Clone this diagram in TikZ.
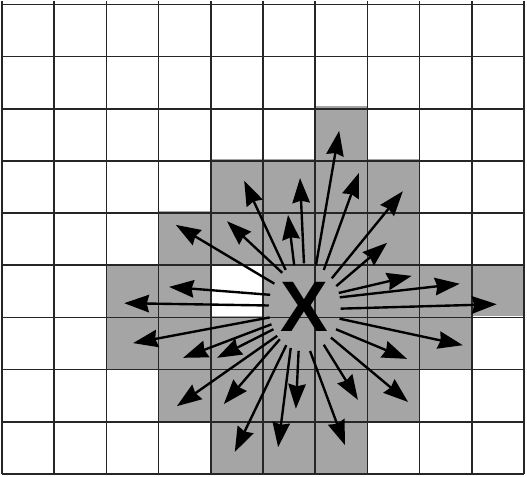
\documentclass[tikz,border=0pt]{standalone}
\usepackage{fontspec}
\usepackage{tikz}
\usetikzlibrary{arrows.meta, shapes.geometric}
\newfontfamily\xfont{Liberation Sans}
\definecolor{cellgray}{RGB}{165, 165, 165}

\begin{document}
\begin{tikzpicture}[x=1cm, y=1.007cm,
    gridline/.style={black!85, line width=0.9pt},
    vec/.style={line width=1.3pt, -{Stealth[length=13.5pt, width=9.5pt, inset=1.2pt]}}]
    \useasboundingbox (-0.04,-0.04) rectangle (10.06,9.02);

    % Shaded cells
    \fill[cellgray] (6,6) rectangle (7,7);
    \fill[cellgray] (4,5) rectangle (8,6);
    \fill[cellgray] (3,4) rectangle (8,5);
    \fill[cellgray] (2,3) rectangle (4,4);
    \fill[cellgray] (5,3) rectangle (10,4);
    \fill[cellgray] (2,2) rectangle (9,3);
    \fill[cellgray] (3,1) rectangle (8,2);
    \fill[cellgray] (4,0) rectangle (7,1);

    % Grid
    \draw[gridline] (0,0) grid (10,9);

    % Centre
    \node[ellipse, minimum width=1.38cm, minimum height=1.69cm, inner sep=0pt,
          outer sep=0pt, font=\xfont\bfseries\fontsize{39}{40}\selectfont] (X) at (5.8,3.17) {X};

    % Arrows
    \foreach \a/\tx/\ty in {16/8.77/3.62, 23/7.85/3.77, 34/7.38/4.40, 47/7.68/5.38,
        63/6.84/5.73, 75/6.46/6.53, 91/5.71/5.63, 104/5.48/4.93, 117/4.64/5.58,
        123/4.31/4.81, 142/3.33/4.74, 160/3.20/3.56, 177/2.34/3.25, 196/2.51/2.49,
        207/3.47/2.21, 215/4.12/2.21, 226/3.35/1.29, 232/4.25/1.33, 244/4.46/0.42,
        251/5.29/0.51, 262/5.63/1.24, 277/6.57/0.55, 297/6.82/1.41, 311/7.78/1.37,
        325/7.76/2.19, 342/8.83/2.45, 358/9.48/3.23} {
        \draw[vec] (X.\a) -- (\tx,\ty);
    }
\end{tikzpicture}
\end{document}
